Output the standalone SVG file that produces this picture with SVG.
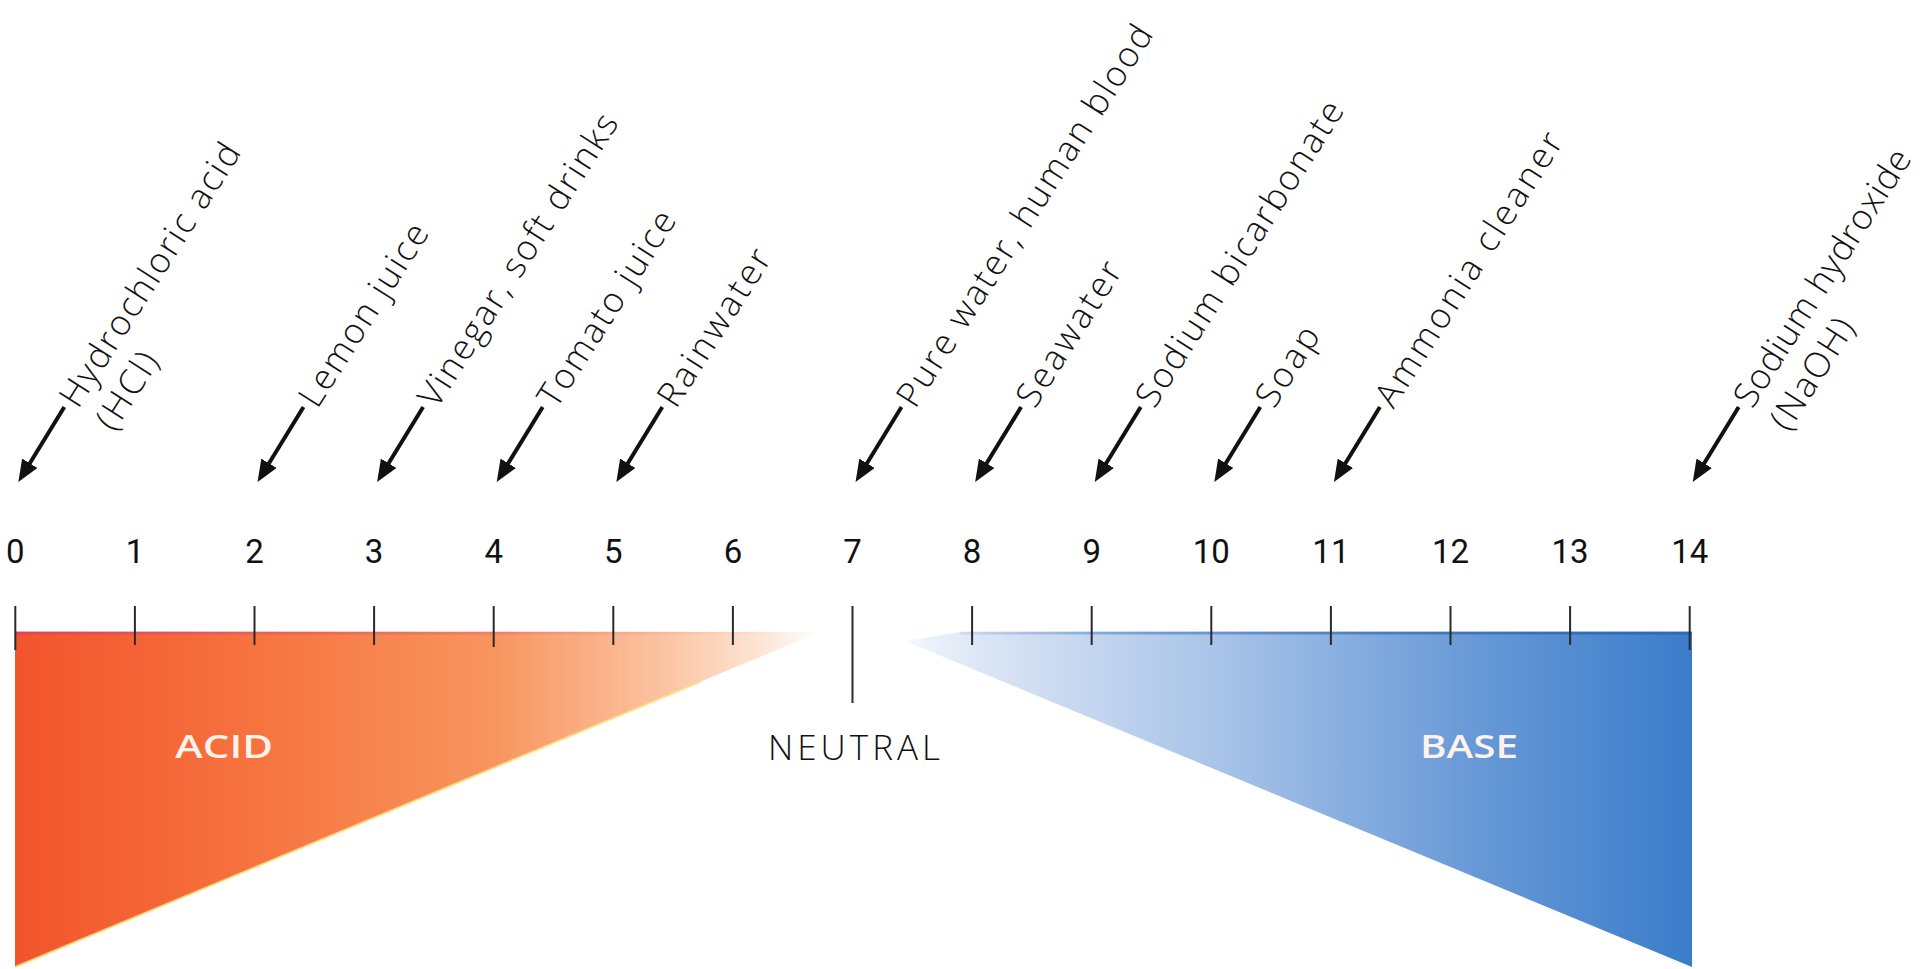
<svg xmlns="http://www.w3.org/2000/svg" width="1920" height="969" viewBox="0 0 1920 969">
<defs>
<style>
.lbl{font-family:"Open Sans","Noto Sans",sans-serif;font-weight:300;font-size:35px;fill:#111}
.num{font-family:Roboto,"Liberation Sans",sans-serif;font-weight:400;font-size:33px;fill:#111;text-anchor:middle}
.tick{stroke:#2a2a2a;stroke-width:2}
.arr{stroke:#111;stroke-width:4;fill:none;marker-end:url(#ah)}
.big{font-family:"Open Sans","Noto Sans",sans-serif;font-weight:600;font-size:32px;fill:#fff2ea;text-anchor:middle}
</style>
<marker id="ah" viewBox="0 0 22 18" markerWidth="22" markerHeight="18" refX="10" refY="9" orient="auto" markerUnits="userSpaceOnUse">
<path d="M0,0 L22,9 L0,18 Z" fill="#111"/>
</marker>
<linearGradient id="gAcid" x1="15" y1="0" x2="820" y2="0" gradientUnits="userSpaceOnUse">
<stop offset="0" stop-color="#f2542c"/>
<stop offset="0.3" stop-color="#f6733f"/>
<stop offset="0.6" stop-color="#f89660"/>
<stop offset="0.8" stop-color="#fbc2a0"/>
<stop offset="0.93" stop-color="#fde6d6"/>
<stop offset="1" stop-color="#ffffff"/>
</linearGradient>
<linearGradient id="gAcidTop" x1="15" y1="0" x2="800" y2="0" gradientUnits="userSpaceOnUse">
<stop offset="0" stop-color="#e0405c" stop-opacity="0.9"/>
<stop offset="0.6" stop-color="#e86a6a" stop-opacity="0.5"/>
<stop offset="1" stop-color="#f8b090" stop-opacity="0"/>
</linearGradient>
<linearGradient id="gBase" x1="905" y1="0" x2="1692" y2="0" gradientUnits="userSpaceOnUse">
<stop offset="0" stop-color="#f4f7fc"/>
<stop offset="0.1" stop-color="#dbe5f5"/>
<stop offset="0.4" stop-color="#a8c3e8"/>
<stop offset="0.7" stop-color="#6c9cd8"/>
<stop offset="1" stop-color="#3a7cca"/>
</linearGradient>
<linearGradient id="gBaseTop" x1="905" y1="0" x2="1692" y2="0" gradientUnits="userSpaceOnUse">
<stop offset="0" stop-color="#3070c0" stop-opacity="0"/>
<stop offset="0.3" stop-color="#3070c0" stop-opacity="0.5"/>
<stop offset="1" stop-color="#2a66b4" stop-opacity="0.9"/>
</linearGradient>
</defs>
<rect width="1920" height="969" fill="#ffffff"/>

<g id="acid-wedge">
<polygon points="15,632 820,632 15,967" fill="url(#gAcid)"/>
<line x1="15" y1="967" x2="700" y2="682" stroke="#ffe07a" stroke-width="2" opacity="0.8"/>
<line x1="15" y1="633" x2="800" y2="633" stroke="url(#gAcidTop)" stroke-width="3"/>
<text class="big" x="224" y="758" textLength="98" lengthAdjust="spacingAndGlyphs">ACID</text>
</g>

<g id="base-wedge">
<polygon points="905,641 960,632 1692,632 1692,967" fill="url(#gBase)"/>
<line x1="960" y1="633" x2="1692" y2="633" stroke="url(#gBaseTop)" stroke-width="3"/>
<text class="big" x="1469" y="758" textLength="98" lengthAdjust="spacingAndGlyphs">BASE</text>
</g>

<g id="neutral">
<line class="tick" x1="852.5" y1="606" x2="852.5" y2="703"/>
<text x="854" y="760" text-anchor="middle" font-family="Open Sans, Noto Sans, sans-serif" font-weight="300" font-size="35" fill="#111" textLength="172" lengthAdjust="spacing">NEUTRAL</text>
</g>

<g id="scale">
<line class="tick" x1="15.3" y1="606" x2="15.3" y2="650"/>
<line class="tick" x1="134.9" y1="606" x2="134.9" y2="645"/>
<line class="tick" x1="254.5" y1="606" x2="254.5" y2="645"/>
<line class="tick" x1="374.1" y1="606" x2="374.1" y2="645"/>
<line class="tick" x1="493.7" y1="606" x2="493.7" y2="647"/>
<line class="tick" x1="613.3" y1="606" x2="613.3" y2="645"/>
<line class="tick" x1="732.9" y1="606" x2="732.9" y2="645"/>
<line class="tick" x1="972.1" y1="606" x2="972.1" y2="645"/>
<line class="tick" x1="1091.7" y1="606" x2="1091.7" y2="645"/>
<line class="tick" x1="1211.3" y1="606" x2="1211.3" y2="645" stroke-width="2.5"/>
<line class="tick" x1="1330.9" y1="606" x2="1330.9" y2="645"/>
<line class="tick" x1="1450.5" y1="606" x2="1450.5" y2="645"/>
<line class="tick" x1="1570.1" y1="606" x2="1570.1" y2="645"/>
<line class="tick" x1="1689.7" y1="606" x2="1689.7" y2="650"/>
<text class="num" x="15.3" y="563">0</text>
<text class="num" x="134.9" y="563">1</text>
<text class="num" x="254.5" y="563">2</text>
<text class="num" x="374.1" y="563">3</text>
<text class="num" x="493.7" y="563">4</text>
<text class="num" x="613.3" y="563">5</text>
<text class="num" x="732.9" y="563">6</text>
<text class="num" x="852.5" y="563">7</text>
<text class="num" x="972.1" y="563">8</text>
<text class="num" x="1091.7" y="563">9</text>
<text class="num" x="1211.3" y="563">10</text>
<text class="num" x="1330.9" y="563">11</text>
<text class="num" x="1450.5" y="563">12</text>
<text class="num" x="1570.1" y="563">13</text>
<text class="num" x="1689.7" y="563">14</text>
</g>

<g id="connectors">
<line class="arr" x1="64.3" y1="407" x2="24.6" y2="471.8"/>
<line class="arr" x1="303.5" y1="407" x2="263.8" y2="471.8"/>
<line class="arr" x1="423.1" y1="407" x2="383.4" y2="471.8"/>
<line class="arr" x1="542.7" y1="407" x2="503.0" y2="471.8"/>
<line class="arr" x1="662.3" y1="407" x2="622.6" y2="471.8"/>
<line class="arr" x1="901.5" y1="407" x2="861.8" y2="471.8"/>
<line class="arr" x1="1021.1" y1="407" x2="981.4" y2="471.8"/>
<line class="arr" x1="1140.7" y1="407" x2="1101.0" y2="471.8"/>
<line class="arr" x1="1260.3" y1="407" x2="1220.6" y2="471.8"/>
<line class="arr" x1="1379.9" y1="407" x2="1340.2" y2="471.8"/>
<line class="arr" x1="1738.7" y1="407" x2="1699.0" y2="471.8"/>
</g>

<g id="hcl" transform="translate(64.3,407) rotate(-57.5)">
<text class="lbl" x="5" y="13" textLength="305">Hydrochloric acid</text>
<text class="lbl" x="5" y="56" textLength="85">(HCl)</text>
</g>
<g id="lemon" transform="translate(303.5,407) rotate(-57.5)">
<text class="lbl" x="5" y="13" textLength="210">Lemon juice</text>
</g>
<g id="vinegar" transform="translate(423.1,407) rotate(-57.5)">
<text class="lbl" x="5" y="13" textLength="340">Vinegar, soft drinks</text>
</g>
<g id="tomato" transform="translate(542.7,407) rotate(-57.5)">
<text class="lbl" x="5" y="13" textLength="225">Tomato juice</text>
</g>
<g id="rain" transform="translate(662.3,407) rotate(-57.5)">
<text class="lbl" x="5" y="13" textLength="180">Rainwater</text>
</g>
<g id="purewater" transform="translate(901.5,407) rotate(-57.5)">
<text class="lbl" x="5" y="13" textLength="445">Pure water, human blood</text>
</g>
<g id="seawater" transform="translate(1021.1,407) rotate(-57.5)">
<text class="lbl" x="5" y="13" textLength="165">Seawater</text>
</g>
<g id="bicarb" transform="translate(1140.7,407) rotate(-57.5)">
<text class="lbl" x="5" y="13" textLength="355">Sodium bicarbonate</text>
</g>
<g id="soap" transform="translate(1260.3,407) rotate(-57.5)">
<text class="lbl" x="5" y="13" textLength="88">Soap</text>
</g>
<g id="ammonia" transform="translate(1379.9,407) rotate(-57.5)">
<text class="lbl" x="5" y="13" textLength="318">Ammonia cleaner</text>
</g>
<g id="naoh" transform="translate(1738.7,407) rotate(-57.5)">
<text class="lbl" x="5" y="13" textLength="298">Sodium hydroxide</text>
<text class="lbl" x="5" y="56" textLength="125">(NaOH)</text>
</g>
</svg>
